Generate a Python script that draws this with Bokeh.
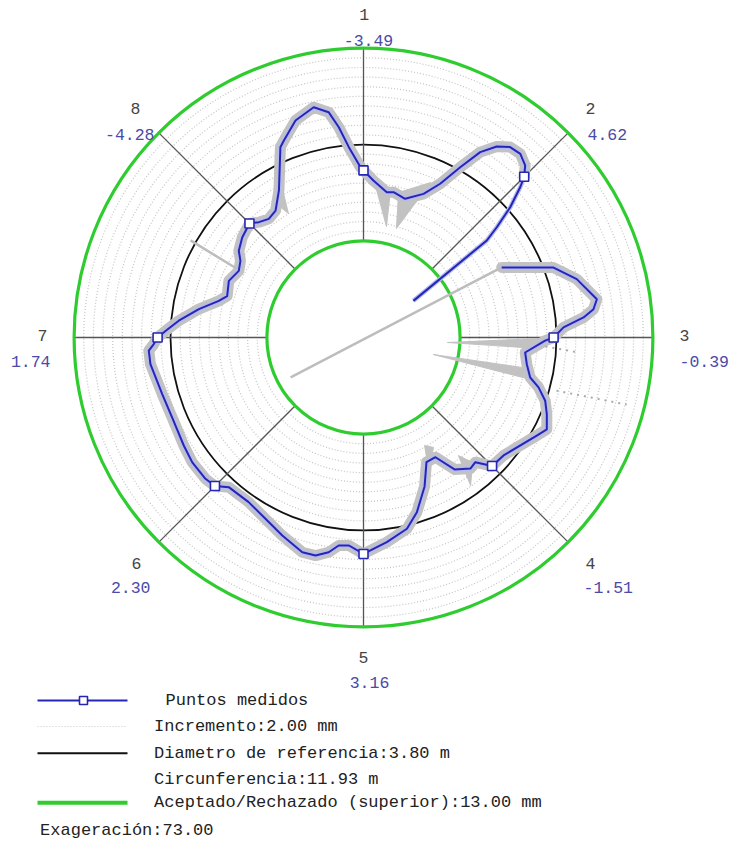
import numpy as np
from bokeh.plotting import figure
from bokeh.models import Range1d
from bokeh.core.properties import value
from bokeh.embed import file_html
from bokeh.resources import INLINE

# ---------------- data ----------------
SPOKE_NAMES = ["1", "2", "3", "4", "5", "6", "7", "8"]
SPOKE_ANGLES = [0, 45, 90, 135, 180, 225, 270, 315]          # degrees, clockwise from top
SPOKE_VALUES = [-3.49, 4.62, -0.39, -1.51, 3.16, 2.30, 1.74, -4.28]  # mm

REF_RADIUS_MM = 1900.0      # diametro de referencia 3.80 m
EXAGGERATION = 73.0
TOLERANCE_MM = 13.0
RING_STEP_MM = 1.3

# measured profile (angle in degrees clockwise from point 1, deviation in mm)
PROFILE_ANGLE = [
    63.1, 69.8, 74.7, 80.7, 83.0, 84.8, 87.1, 90.0, 91.0, 95.3,
    99.3, 103.5, 105.9, 109.2, 112.7, 116.6, 119.5, 130.1, 135.0, 138.1,
    140.8, 145.4, 149.0, 153.2, 157.7, 163.0, 167.2, 173.5, 180.0, 184.0,
    186.8, 189.2, 192.4, 195.9, 202.3, 208.4, 214.9, 222.0, 225.0, 228.2,
    233.9, 239.0, 247.3, 254.3, 262.9, 266.5, 268.2, 270.0, 271.9, 275.2,
    279.8, 284.2, 286.9, 292.8, 298.1, 301.9, 304.8, 309.5, 315.0, 317.8,
    321.4, 325.3, 330.1, 336.4, 338.0, 342.6, 347.8, 351.2, 353.3, 355.6,
    359.0, 360.0, 363.6, 369.1, 371.7, 376.7, 382.7, 386.5, 389.6, 392.2,
    394.9, 397.6, 400.5, 403.2, 405.0, 406.2, 408.4, 410.4, 411.8, 413.7,
]
PROFILE_DEV = [
    -5.13, 1.28, 3.79, 5.86, 5.22, 3.77, 0.98, -0.39, -1.53, -4.13,
    -3.71, -2.91, -1.48, -0.08, 0.77, 1.62, 0.82, -1.34, -1.51, -3.44,
    -3.22, -4.41, -7.19, -7.19, -4.32, -1.40, 0.42, 1.75, 3.16, 2.09,
    2.22, 3.31, 4.08, 4.09, 2.84, 1.77, 1.04, 1.13, 2.30, 2.56,
    2.55, 2.25, 1.94, 2.17, 2.93, 2.98, 2.27, 1.74, 0.69, -1.01,
    -3.50, -5.90, -6.81, -6.33, -6.96, -6.48, -5.55, -4.83, -4.28, -5.03,
    -5.56, -5.20, -3.15, 1.97, 2.63, 4.64, 5.75, 4.72, 2.52, -0.28,
    -3.06, -3.49, -4.82, -6.18, -6.02, -6.50, -5.03, -2.86, 0.38, 3.51,
    5.38, 6.38, 6.54, 5.82, 4.62, 3.25, 0.43, -2.70, -4.87, -17.68,
]
RAW_BAND_END = 85   # raw (grey) scan follows the profile up to point 2

# raw scan outliers (grey)
RAW_SPIKE_ANGLES = [
    [3.6, 10.4, 11.7], [13.6, 23.4, 16.8], [93.4, 90.3, 93.6], [103.7, 100.6, 104.1],
    [326.4, 331.7, 328.8], [141.2, 138.9, 144.1], [150.5, 147.5, 153.9],
]
RAW_SPIKE_DEVS = [
    [-4.55, -5.87, -10.74], [-5.91, -3.25, -10.67], [-14.69, -2.16, -2.12],
    [-16.33, -3.39, -3.36], [-3.85, -2.74, -6.49], [-5.6, -3.66, -1.4],
    [-9.3, -8.45, -6.07],
]
RAW_LINE_ANGLES = [[241.3, 63.1], [299.3, 298.5]]
RAW_LINE_DEVS = [[-14.82, -4.56], [0.72, -6.54]]
RAW_DOT_ANGLES = [[105.4, 104.3], [92.8, 94.0]]
RAW_DOT_DEVS = [[0.96, 10.6], [-1.46, 3.04]]

LEGEND_LABELS = [
    " Puntos medidos",
    "Incremento:2.00 mm",
    "Diametro de referencia:3.80 m",
    "Circunferencia:11.93 m",
    "Aceptado/Rechazado (superior):13.00 mm",
]
FOOTER = "Exageración:73.00"

# ---------------- geometry helpers ----------------
CX, CY = 363.0, 337.0                 # centre in page pixels
U = REF_RADIUS_MM / 193.0             # data units per pixel
FONT = value("Liberation Mono")
OX, OY = 0, 0                         # page position of the figure


def polar(ang, dev):
    a = np.radians(np.asarray(ang, float))
    r = REF_RADIUS_MM + EXAGGERATION * np.asarray(dev, float)
    return r * np.sin(a), r * np.cos(a)


def P(x, y):
    return (x - CX) * U, (CY - y) * U


W, H = 730, 842
p = figure(width=W, height=H, output_backend="svg", toolbar_location=None,
           x_axis_type=None, y_axis_type=None, min_border=0,
           x_range=Range1d((OX - CX) * U, (OX + W - CX) * U),
           y_range=Range1d((CY - OY - H) * U, (CY - OY) * U))
p.grid.visible = False
p.outline_line_color = None
p.background_fill_color = "white"

# rings
n = int(round(2 * TOLERANCE_MM / RING_STEP_MM))
ring_devs = [-TOLERANCE_MM + k * RING_STEP_MM for k in range(1, n) if k != n // 2]
ring_r = [REF_RADIUS_MM + EXAGGERATION * d for d in ring_devs]
p.circle(x=[0] * len(ring_r), y=[0] * len(ring_r), radius=ring_r,
         fill_color=None, line_color="#c4c4c4", line_width=1.2, line_dash="1 2")

# reference circle
p.circle(x=[0], y=[0], radius=[REF_RADIUS_MM], fill_color=None,
         line_color="#111111", line_width=1.8)

# spokes
for a in SPOKE_ANGLES:
    xs, ys = polar([a, a], [-TOLERANCE_MM, TOLERANCE_MM])
    p.line(xs, ys, line_color="#555555", line_width=1.3)

# tolerance circles
p.circle(x=[0, 0], y=[0, 0],
         radius=[REF_RADIUS_MM - EXAGGERATION * TOLERANCE_MM,
                 REF_RADIUS_MM + EXAGGERATION * TOLERANCE_MM],
         fill_color=None, line_color="#2fcc2f", line_width=3.2)

# raw scan (grey)
bx, by = polar(PROFILE_ANGLE[:RAW_BAND_END], PROFILE_DEV[:RAW_BAND_END])
p.line(bx, by, line_color="#c2c2c2", line_width=11,
       line_join="round", line_cap="round")
for a, d in zip(RAW_SPIKE_ANGLES, RAW_SPIKE_DEVS):
    sx, sy = polar(a, d)
    p.patch(sx, sy, fill_color="#c2c2c2", line_color="#c2c2c2", line_width=1)
for a, d in zip(RAW_LINE_ANGLES, RAW_LINE_DEVS):
    sx, sy = polar(a, d)
    p.line(sx, sy, line_color="#bdbdbd", line_width=2.5)
for a, d in zip(RAW_DOT_ANGLES, RAW_DOT_DEVS):
    sx, sy = polar(a, d)
    p.line(sx, sy, line_color="#aaaaaa", line_width=2, line_dash="2 5")

# measured profile
px_, py_ = polar(PROFILE_ANGLE, PROFILE_DEV)
p.line(px_, py_, line_color="#b6baf2", line_width=4.5, line_join="round")
p.line(px_, py_, line_color="#2626b4", line_width=2, line_join="round")
mx, my = polar(SPOKE_ANGLES, SPOKE_VALUES)
p.scatter(mx, my, marker="square", size=9, fill_color="white",
          line_color="#2626b4", line_width=1.6)

# spoke labels
num_pos = [(363.6, 14), (590, 108), (684, 335), (590, 563),
           (363, 657), (136, 563), (42, 335), (135, 108)]
nx, ny = zip(*[P(*q) for q in num_pos])
p.text(list(nx), list(ny), text=SPOKE_NAMES, text_font=FONT, text_font_size="16.5px",
       text_color="#444444", text_align="center", text_baseline="middle")

val_text = [f"{v:.2f}" for v in SPOKE_VALUES]
groups = {
    "center": ([0, 4], [(368, 40), (369, 682)]),
    "left": ([1, 2, 3], [(587, 134), (679, 361), (583, 587)]),
    "right": ([5, 6, 7], [(150, 587), (50, 361), (154, 134)]),
}
for align, (idx, pos) in groups.items():
    vx, vy = zip(*[P(*q) for q in pos])
    p.text(list(vx), list(vy), text=[val_text[i] for i in idx], text_font=FONT,
           text_font_size="16.5px", text_color="#4a4aa8", text_align=align,
           text_baseline="middle")

# legend
ly = [700, 726, 752.7, 779, 802.3]
x0, _ = P(37, 0)
x1, _ = P(127, 0)
_, y0 = P(0, ly[0])
p.line([x0, x1], [y0, y0], line_color="#2626b4", line_width=2)
mxl, _ = P(83, 0)
p.scatter([mxl], [y0], marker="square", size=8, fill_color="white",
          line_color="#2626b4", line_width=1.6)
_, y1 = P(0, ly[1])
p.line([x0, x1], [y1, y1], line_color="#c8c8c8", line_width=1.2, line_dash="1 2")
_, y2 = P(0, ly[2])
p.line([x0, x1], [y2, y2], line_color="#111111", line_width=2)
_, y4 = P(0, ly[4])
p.line([x0, x1], [y4, y4], line_color="#2fcc2f", line_width=4)

tx = [P(165, 0)[0]] + [P(153.6, 0)[0]] * 4
tys = [P(0, y)[1] for y in ly]
p.text(tx, tys, text=LEGEND_LABELS, text_font=FONT, text_font_size="17px",
       text_color="#222222", text_align="left", text_baseline="middle")
fx, fy = P(39.6, 830)
p.text([fx], [fy], text=[FOOTER], text_font=FONT, text_font_size="17px",
       text_color="#222222", text_align="left", text_baseline="middle")

open("out.html", "w").write(file_html(p, INLINE))
